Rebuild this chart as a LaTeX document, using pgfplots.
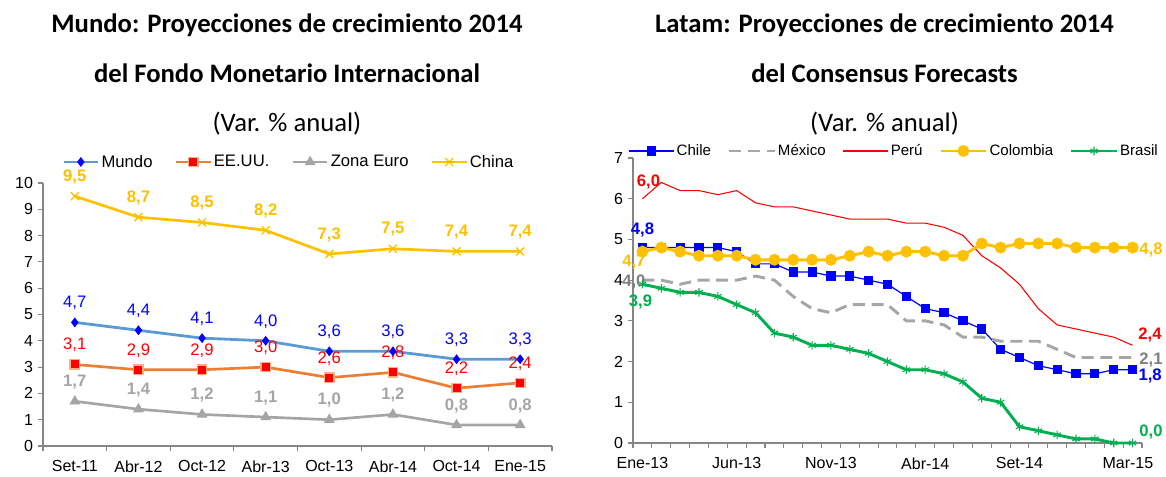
\documentclass[border=0pt]{standalone}
\usepackage{fontspec}
\setmainfont{Liberation Sans}
\newfontfamily\calibri{Carlito}
\usepackage{pgfplots}
\usepackage{pgfplotstable}
\pgfplotsset{compat=1.18}

\definecolor{axgray}{HTML}{868686}
\definecolor{mundoline}{HTML}{5B9BD5}
\definecolor{mundomark}{HTML}{0000FF}
\definecolor{usline}{HTML}{ED7D31}
\definecolor{usborder}{HTML}{F4B183}
\definecolor{usred}{HTML}{FF0000}
\definecolor{eurogray}{HTML}{A5A5A5}
\definecolor{chinagold}{HTML}{FFC000}
\definecolor{chileblue}{HTML}{0000FF}
\definecolor{mexgray}{HTML}{A6A6A6}
\definecolor{mexlabel}{HTML}{808080}
\definecolor{perured}{HTML}{FF0000}
\definecolor{brgreen}{HTML}{00B050}

% Mundo / FMI (Set-11 ... Ene-15)
\pgfplotstableread{
x mundo eeuu euro china
1 4.7 3.1 1.7 9.5
2 4.4 2.9 1.4 8.7
3 4.1 2.9 1.2 8.5
4 4.0 3.0 1.1 8.2
5 3.6 2.6 1.0 7.3
6 3.6 2.8 1.2 7.5
7 3.3 2.2 0.8 7.4
8 3.3 2.4 0.8 7.4
}\mundo

% Latam / Consensus (Ene-13 ... Mar-15)
\pgfplotstableread{
i chile mexico peru colombia brasil
0 4.8 4.0 6.0 4.7 3.9
1 4.8 4.0 6.4 4.8 3.8
2 4.8 3.9 6.2 4.7 3.7
3 4.8 4.0 6.2 4.6 3.7
4 4.8 4.0 6.1 4.6 3.6
5 4.7 4.0 6.2 4.6 3.4
6 4.4 4.1 5.9 4.5 3.2
7 4.4 4.0 5.8 4.5 2.7
8 4.2 3.6 5.8 4.5 2.6
9 4.2 3.3 5.7 4.5 2.4
10 4.1 3.2 5.6 4.5 2.4
11 4.1 3.4 5.5 4.6 2.3
12 4.0 3.4 5.5 4.7 2.2
13 3.9 3.4 5.5 4.6 2.0
14 3.6 3.0 5.4 4.7 1.8
15 3.3 3.0 5.4 4.7 1.8
16 3.2 2.9 5.3 4.6 1.7
17 3.0 2.6 5.1 4.6 1.5
18 2.8 2.6 4.6 4.9 1.1
19 2.3 2.5 4.3 4.8 1.0
20 2.1 2.5 3.9 4.9 0.4
21 1.9 2.5 3.3 4.9 0.3
22 1.8 2.3 2.9 4.9 0.2
23 1.7 2.1 2.8 4.8 0.1
24 1.7 2.1 2.7 4.8 0.1
25 1.8 2.1 2.6 4.8 0.0
26 1.8 2.1 2.4 4.8 0.0
}\latam

\tikzset{rl/.style={font=\bfseries\fontsize{12.5}{14}\selectfont, inner sep=0pt, text=#1}}

\pgfplotsset{
  /pgf/number format/assume math mode=true,
  base/.style={
    scale only axis,
    axis lines=left,
    axis line style={draw=axgray, line width=1.1pt, -},
    tick align=outside,
    tick style={draw=axgray, line width=0.8pt},
    major tick length=4pt,
    tick label style={font=\fontsize{12}{14}\selectfont, text=black},
    extra x tick style={major tick length=0pt, tick style={draw=none},
      xticklabel style={yshift=-7.5pt}},
    clip=false,
    point meta=y,
    legend columns=-1,
    legend cell align=left,
    legend style={draw=none, fill=none, inner sep=0pt, nodes={inner sep=1.5pt}},
  },
  lbl/.style={
    nodes near coords={\pgfmathprintnumber[fixed,fixed zerofill,precision=1,use comma]{\pgfplotspointmeta}},
    every node near coord/.append style={anchor=center, yshift=14.5pt, inner sep=0pt,
      font=\fontsize{12.5}{14}\selectfont, text=#1},
  },
}

\begin{document}
\begin{tikzpicture}
\path (0,0) rectangle (874.5pt,-356.25pt);

% titles
\begin{scope}[every node/.style={anchor=base, inner sep=0pt}]
\node[font=\calibri\bfseries\fontsize{20}{24}\selectfont] at (215.25pt,-24.4pt) {Mundo: Proyecciones de crecimiento 2014};
\node[font=\calibri\bfseries\fontsize{20}{24}\selectfont] at (215.25pt,-62.25pt) {del Fondo Monetario Internacional};
\node[font=\calibri\fontsize{20}{24}\selectfont] at (215.25pt,-99pt) {(Var. \% anual)};
\node[font=\calibri\bfseries\fontsize{20}{24}\selectfont] at (663.4pt,-24.4pt) {Latam: Proyecciones de crecimiento 2014};
\node[font=\calibri\bfseries\fontsize{20}{24}\selectfont] at (663.4pt,-62.25pt) {del Consensus Forecasts};
\node[font=\calibri\fontsize{20}{24}\selectfont] at (663.4pt,-99pt) {(Var. \% anual)};
\end{scope}

% left chart
\begin{axis}[base,
  at={(32.25pt,-334.5pt)}, anchor=south west,
  width=381.75pt, height=197.25pt,
  xmin=0.5, xmax=8.5, ymin=0, ymax=10,
  ytick={0,...,10},
  xtick={0.5,1.5,...,8.5}, xticklabels={},
  extra x ticks={1,...,8},
  extra x tick labels={Set-11,Abr-12,Oct-12,Abr-13,Oct-13,Abr-14,Oct-14,Ene-15},
  legend style={at={(0.037,1.08)}, anchor=west, font=\fontsize{12.5}{14}\selectfont,
    /tikz/every even column/.append style={column sep=15pt}},
  legend image code/.code={\draw[mark repeat=2,mark phase=2,#1] plot coordinates {(0pt,0pt) (13pt,0pt) (26pt,0pt)};},
]
\addplot[mundoline, line width=2.1pt, mark=diamond*, mark size=3.3pt,
  mark options={fill=mundomark, draw=mundomark, line width=0.5pt}, lbl=mundomark]
  table[x=x, y=mundo] {\mundo};
\addlegendentry{Mundo}
\addplot[usline, line width=2pt, mark=square*, mark size=3.5pt,
  mark options={fill=usred, draw=usborder, line width=1pt}, lbl=usred]
  table[x=x, y=eeuu] {\mundo};
\addlegendentry{EE.UU.}
\addplot[eurogray, line width=2pt, mark=triangle*, mark size=4.2pt,
  mark options={fill=eurogray, draw=eurogray, line width=0.5pt},
  lbl=eurogray, every node near coord/.append style={font=\bfseries\fontsize{12.5}{14}\selectfont}]
  table[x=x, y=euro] {\mundo};
\addlegendentry{Zona Euro}
\addplot[chinagold, line width=2pt, mark=x, mark size=4.2pt,
  mark options={draw=chinagold, line width=1pt},
  lbl=chinagold, every node near coord/.append style={font=\bfseries\fontsize{12.5}{14}\selectfont}]
  table[x=x, y=china] {\mundo};
\addlegendentry{China}
\end{axis}

% right chart
\begin{axis}[base,
  at={(474.75pt,-332.25pt)}, anchor=south west,
  width=381.75pt, height=213.75pt,
  xmin=-0.5, xmax=26.5, ymin=0, ymax=7,
  ytick={0,...,7},
  xtick={-0.5,0.5,...,26.5}, xticklabels={},
  extra x ticks={0,5,10,15,20,25.75},
  extra x tick labels={Ene-13,Jun-13,Nov-13,Abr-14,Set-14,Mar-15},
  legend style={at={(-0.01,1.0246)}, anchor=west, font=\fontsize{11.3}{13}\selectfont,
    /tikz/every even column/.append style={column sep=11pt}},
  legend image code/.code={\draw[mark repeat=2,mark phase=2,#1] plot coordinates {(0pt,0pt) (17pt,0pt) (34pt,0pt)};},
]
\addplot[chileblue, line width=0.9pt, mark=square*, mark size=3pt,
  mark options={fill=chileblue, draw=chileblue}]
  table[x=i, y=chile] {\latam}
  node[pos=0, rl=chileblue, anchor=center, yshift=13.5pt] {4,8}
  node[pos=1, rl=chileblue, anchor=west, xshift=4pt, yshift=-5pt] {1,8};
\addlegendentry{Chile}
\addplot[mexgray, line width=2.2pt, dash pattern=on 9pt off 5pt]
  table[x=i, y=mexico] {\latam}
  node[pos=0, rl=mexlabel, anchor=center, xshift=-6.4pt, yshift=-1pt] {4,0}
  node[pos=1, rl=mexlabel, anchor=west, xshift=4pt, yshift=-2pt] {2,1};
\addlegendentry{México}
\addplot[perured, line width=0.8pt]
  table[x=i, y=peru] {\latam}
  node[pos=0, rl=perured, anchor=center, xshift=4.5pt, yshift=12.75pt] {6,0}
  node[pos=1, rl=perured, anchor=west, xshift=4pt, yshift=7.5pt] {2,4};
\addlegendentry{Perú}
\addplot[chinagold, line width=2.2pt, mark=*, mark size=3.3pt,
  mark options={fill=chinagold, draw=chinagold}]
  table[x=i, y=colombia] {\latam}
  node[pos=0, rl=chinagold, anchor=center, xshift=-6.4pt, yshift=-8pt] {4,7}
  node[pos=1, rl=chinagold, anchor=west, xshift=4pt, yshift=-2pt] {4,8};
\addlegendentry{Colombia}
\addplot[brgreen, line width=2.2pt, mark=asterisk, mark size=3.2pt,
  mark options={draw=brgreen, line width=0.8pt}]
  table[x=i, y=brasil] {\latam}
  node[pos=0, rl=brgreen, anchor=center, xshift=-1.5pt, yshift=-13.5pt] {3,9}
  node[pos=1, rl=brgreen, anchor=west, xshift=4pt, yshift=8pt] {0,0};
\addlegendentry{Brasil}
\end{axis}
\end{tikzpicture}
\end{document}
